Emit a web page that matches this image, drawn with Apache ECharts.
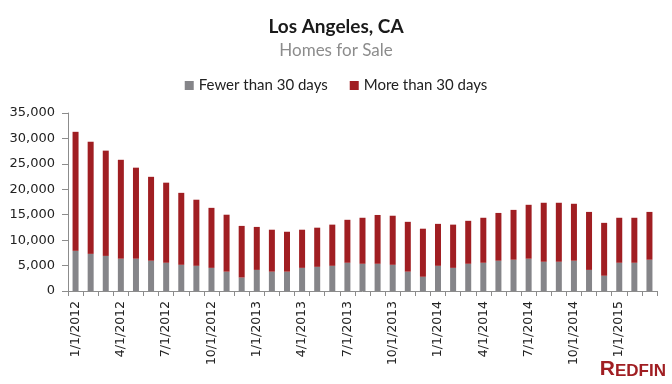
<!DOCTYPE html>
<html><head><meta charset="utf-8">
<script src="https://cdn.jsdelivr.net/npm/echarts@6/dist/echarts.min.js"></script>
<style>html,body{margin:0;padding:0;background:#fff}#c{width:672px;height:384px}</style>
</head><body><div id="c"></div>
<script>
const categories = [
 '1/1/2012','2/1/2012','3/1/2012','4/1/2012','5/1/2012','6/1/2012','7/1/2012','8/1/2012','9/1/2012','10/1/2012','11/1/2012','12/1/2012',
 '1/1/2013','2/1/2013','3/1/2013','4/1/2013','5/1/2013','6/1/2013','7/1/2013','8/1/2013','9/1/2013','10/1/2013','11/1/2013','12/1/2013',
 '1/1/2014','2/1/2014','3/1/2014','4/1/2014','5/1/2014','6/1/2014','7/1/2014','8/1/2014','9/1/2014','10/1/2014','11/1/2014','12/1/2014',
 '1/1/2015','2/1/2015','3/1/2015'];
const totals = [31300,29350,27600,25800,24250,22450,21300,19300,17950,16350,15000,12800,
 12600,12050,11650,12050,12450,13050,14000,14400,14950,14800,13600,12250,
 13200,13050,13800,14400,15350,15950,16950,17350,17350,17150,15550,13400,
 14400,14400,15550];
const fewer = [7900,7300,6900,6350,6350,5950,5550,5150,4950,4550,3800,2650,
 4150,3800,3800,4550,4750,4950,5550,5350,5350,5150,3800,2800,
 4950,4550,5350,5550,5950,6150,6350,5750,5750,5950,4150,3000,
 5550,5550,6150];
const more = totals.map((t,i)=>t-fewer[i]);
const yTicks = [0,5000,10000,15000,20000,25000,30000,35000];

const chart = echarts.init(document.getElementById('c'));
const font = "'Lato', 'Open Sans', sans-serif";
chart.setOption({
  animation:false,
  title:{
    text:'Los Angeles, CA', subtext:'Homes for Sale', left:'center', top:12, itemGap:6,
    textStyle:{fontFamily:font,fontSize:19,fontWeight:'bold',color:'#1a1a1a'},
    subtextStyle:{fontFamily:font,fontSize:17,color:'#8c8c8c'}
  },
  legend:{
    top:73, left:'center', itemWidth:9, itemHeight:9, itemGap:22, icon:'rect',
    textStyle:{fontFamily:font,fontSize:15,color:'#222'},
    data:['Fewer than 30 days','More than 30 days']
  },
  grid:{left:68,right:15,top:113,bottom:93},
  xAxis:{
    type:'category', data:categories, boundaryGap:true,
    axisLine:{lineStyle:{color:'#8c8c8c',width:1}},
    axisTick:{show:true,interval:0,length:5,lineStyle:{color:'#8c8c8c'}},
    axisLabel:{interval:2,rotate:90,margin:10,fontFamily:"'DejaVu Sans', sans-serif",fontSize:12.5,color:'#222'}
  },
  yAxis:{
    type:'value', min:0, max:35000, interval:5000,
    axisLine:{show:true,lineStyle:{color:'#8c8c8c'}},
    axisTick:{show:true,length:6,lineStyle:{color:'#8c8c8c'}},
    splitLine:{show:false},
    axisLabel:{margin:13,fontFamily:"'DejaVu Sans', sans-serif",fontSize:13,color:'#222',
      formatter:v=>yTicks.includes(v)?v.toLocaleString('en-US'):''}
  },
  series:[
    {name:'Fewer than 30 days',type:'bar',stack:'a',data:fewer,barWidth:6,itemStyle:{color:'#858589'}},
    {name:'More than 30 days',type:'bar',stack:'a',data:more,barWidth:6,itemStyle:{color:'#a01e22'}}
  ],
  graphic:[{
    type:'text', right:6, bottom:4,
    style:{text:'{a|R}{b|EDFIN}',rich:{
      a:{fontFamily:"'Liberation Sans', sans-serif",fontSize:21,fontWeight:'bold',fill:'#a01e22',verticalAlign:'bottom'},
      b:{fontFamily:"'Liberation Sans', sans-serif",fontSize:17,fontWeight:'bold',fill:'#a01e22',verticalAlign:'bottom'}
    }}
  }]
});
</script></body></html>
